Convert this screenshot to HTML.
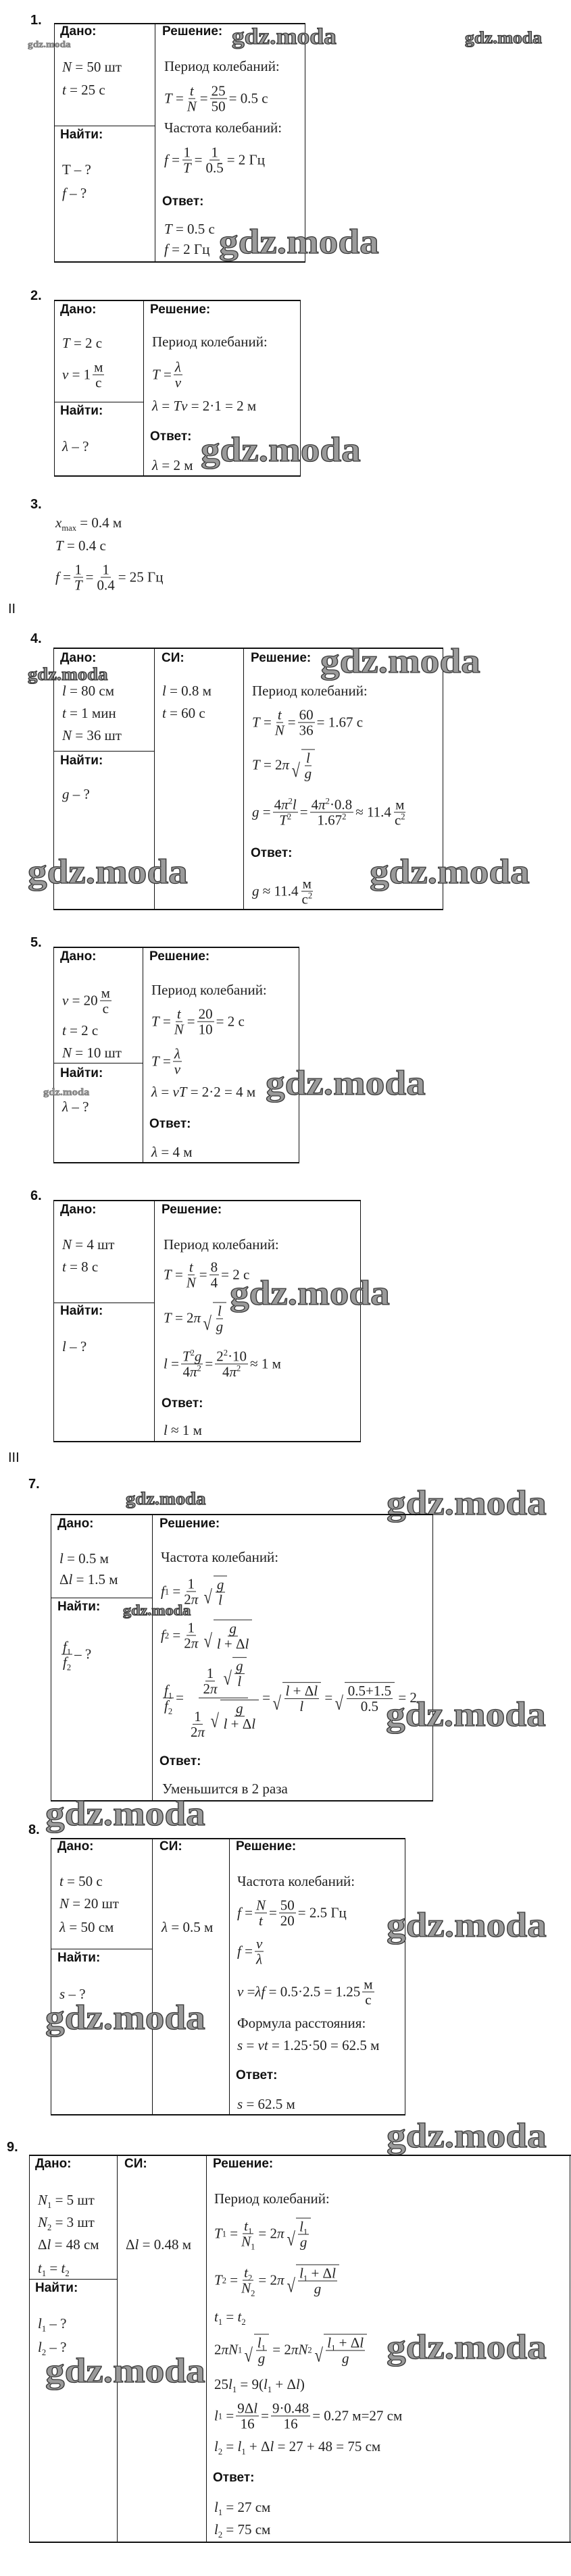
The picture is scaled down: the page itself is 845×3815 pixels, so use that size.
<!DOCTYPE html>
<html><head><meta charset="utf-8">
<style>
*{margin:0;padding:0;box-sizing:border-box}
body{width:845px;height:3815px;background:#fff;position:relative;overflow:hidden;color:#111}
.n{position:absolute;font:bold 20px "Liberation Sans",sans-serif;line-height:1}
.r{position:absolute;font:20px "Liberation Sans",sans-serif;line-height:1}
.h{position:absolute;font:bold 19px "Liberation Sans",sans-serif;line-height:1;white-space:nowrap}
.t{position:absolute;font:21px "Liberation Serif",serif;line-height:1;white-space:nowrap;color:#222}
.m{position:absolute;font:21px "Liberation Serif",serif;white-space:nowrap;display:flex;align-items:center;transform:translateY(-50%);color:#222;line-height:1}
.fr{display:inline-flex;flex-direction:column;align-items:center;margin:0 3px;vertical-align:middle}
.fr>span{padding:0 2px;line-height:22px}
.fr>span:first-child{border-bottom:1px solid #222}
.sq{display:inline-flex;align-items:stretch;margin-left:2px}
.sq>b{font-weight:normal;font-size:1.35em;line-height:1;align-self:flex-end;transform:scaleX(.8)}
.sq>span{border-top:1px solid #222;display:inline-flex;align-items:center;padding-top:1px}
sub,sup{font-size:.6em;line-height:0}
.L{position:absolute;background:#111}
.wm{position:absolute;font:bold 52px "Liberation Serif",serif;color:#9a9a9a;-webkit-text-stroke:1.3px #3a3a3a;line-height:1;white-space:nowrap;transform:scaleX(1.1);transform-origin:left top}
</style></head><body>

<!-- ===== 1 ===== -->
<div class="n" style="left:45px;top:20px">1.</div>
<div class="L" style="left:80px;top:34px;width:372px;height:2px"></div>
<div class="L" style="left:80px;top:387px;width:372px;height:2px"></div>
<div class="L" style="left:80px;top:34px;width:1px;height:355px"></div>
<div class="L" style="left:229px;top:34px;width:1px;height:355px"></div>
<div class="L" style="left:451px;top:34px;width:1px;height:355px"></div>
<div class="L" style="left:80px;top:186px;width:149px;height:1px"></div>
<div class="h" style="left:89px;top:37px">Дано:</div>
<div class="h" style="left:240px;top:37px">Решение:</div>
<div class="t" style="left:92px;top:89px"><i>N</i> = 50 шт</div>
<div class="t" style="left:92px;top:123px"><i>t</i> = 25 с</div>
<div class="h" style="left:89px;top:190px">Найти:</div>
<div class="t" style="left:92px;top:241px">T – ?</div>
<div class="t" style="left:92px;top:276px"><i>f</i> – ?</div>
<div class="t" style="left:243px;top:88px">Период колебаний:</div>
<div class="m" style="left:243px;top:146px"><i>T</i>&nbsp;=<span class="fr"><span><i>t</i></span><span><i>N</i></span></span>=<span class="fr"><span>25</span><span>50</span></span>= 0.5 с</div>
<div class="t" style="left:243px;top:179px">Частота колебаний:</div>
<div class="m" style="left:243px;top:237px"><i>f</i>&nbsp;=<span class="fr"><span>1</span><span><i>T</i></span></span>=<span class="fr"><span>1</span><span>0.5</span></span>= 2 Гц</div>
<div class="h" style="left:240px;top:289px">Ответ:</div>
<div class="t" style="left:243px;top:329px"><i>T</i> = 0.5 с</div>
<div class="t" style="left:243px;top:359px"><i>f</i> = 2 Гц</div>
<div class="wm" style="left:343px;top:38px;font-size:34px">gdz.moda</div>
<div class="wm" style="left:688px;top:44px;font-size:25px">gdz.moda</div>
<div class="wm" style="left:41px;top:60px;font-size:14px;-webkit-text-stroke:0.5px #555">gdz.moda</div>
<div class="wm" style="left:324px;top:333px">gdz.moda</div>

<!-- ===== 2 ===== -->
<div class="n" style="left:45px;top:428px">2.</div>
<div class="L" style="left:80px;top:444px;width:365px;height:2px"></div>
<div class="L" style="left:80px;top:704px;width:365px;height:2px"></div>
<div class="L" style="left:80px;top:444px;width:1px;height:262px"></div>
<div class="L" style="left:212px;top:444px;width:1px;height:262px"></div>
<div class="L" style="left:444px;top:444px;width:1px;height:262px"></div>
<div class="L" style="left:80px;top:595px;width:132px;height:1px"></div>
<div class="h" style="left:89px;top:449px">Дано:</div>
<div class="h" style="left:222px;top:449px">Решение:</div>
<div class="t" style="left:92px;top:498px"><i>T</i> = 2 с</div>
<div class="m" style="left:92px;top:555px"><i>v</i>&nbsp;= 1<span class="fr"><span>м</span><span>с</span></span></div>
<div class="h" style="left:89px;top:599px">Найти:</div>
<div class="t" style="left:92px;top:651px"><i>λ</i> – ?</div>
<div class="t" style="left:225px;top:496px">Период колебаний:</div>
<div class="m" style="left:225px;top:555px"><i>T</i>&nbsp;=<span class="fr"><span><i>λ</i></span><span><i>v</i></span></span></div>
<div class="t" style="left:225px;top:591px"><i>λ</i> = <i>Tv</i> = 2·1 = 2 м</div>
<div class="h" style="left:222px;top:637px">Ответ:</div>
<div class="t" style="left:225px;top:679px"><i>λ</i> = 2 м</div>
<div class="wm" style="left:297px;top:641px">gdz.moda</div>

<!-- ===== 3 ===== -->
<div class="n" style="left:45px;top:737px">3.</div>
<div class="t" style="left:82px;top:764px"><i>x</i><sub>max</sub> = 0.4 м</div>
<div class="t" style="left:82px;top:798px"><i>T</i> = 0.4 с</div>
<div class="m" style="left:82px;top:855px"><i>f</i>&nbsp;=<span class="fr"><span>1</span><span><i>T</i></span></span>=<span class="fr"><span>1</span><span>0.4</span></span>= 25 Гц</div>
<div class="r" style="left:12px;top:892px">II</div>

<!-- ===== 4 ===== -->
<div class="n" style="left:45px;top:936px">4.</div>
<div class="L" style="left:79px;top:959px;width:577px;height:2px"></div>
<div class="L" style="left:79px;top:1346px;width:577px;height:2px"></div>
<div class="L" style="left:79px;top:959px;width:1px;height:389px"></div>
<div class="L" style="left:228px;top:959px;width:1px;height:389px"></div>
<div class="L" style="left:360px;top:959px;width:1px;height:389px"></div>
<div class="L" style="left:655px;top:959px;width:1px;height:389px"></div>
<div class="L" style="left:79px;top:1112px;width:149px;height:1px"></div>
<div class="h" style="left:89px;top:965px">Дано:</div>
<div class="h" style="left:239px;top:965px">СИ:</div>
<div class="h" style="left:371px;top:965px">Решение:</div>
<div class="t" style="left:92px;top:1013px"><i>l</i> = 80 см</div>
<div class="t" style="left:92px;top:1046px"><i>t</i> = 1 мин</div>
<div class="t" style="left:92px;top:1079px"><i>N</i> = 36 шт</div>
<div class="t" style="left:240px;top:1013px"><i>l</i> = 0.8 м</div>
<div class="t" style="left:240px;top:1046px"><i>t</i> = 60 с</div>
<div class="h" style="left:89px;top:1117px">Найти:</div>
<div class="t" style="left:92px;top:1166px"><i>g</i> – ?</div>
<div class="t" style="left:373px;top:1013px">Период колебаний:</div>
<div class="m" style="left:373px;top:1070px"><i>T</i>&nbsp;=<span class="fr"><span><i>t</i></span><span><i>N</i></span></span>=<span class="fr"><span>60</span><span>36</span></span>= 1.67 с</div>
<div class="m" style="left:373px;top:1133px"><i>T</i>&nbsp;= 2<i>π</i><span class="sq"><b>√</b><span><span class="fr"><span><i>l</i></span><span><i>g</i></span></span></span></span></div>
<div class="m" style="left:373px;top:1203px"><i>g</i>&nbsp;=<span class="fr"><span>4<i>π</i><sup>2</sup><i>l</i></span><span><i>T</i><sup>2</sup></span></span>=<span class="fr"><span>4<i>π</i><sup>2</sup>·0.8</span><span>1.67<sup>2</sup></span></span>≈ 11.4<span class="fr"><span>м</span><span>с<sup>2</sup></span></span></div>
<div class="h" style="left:371px;top:1254px">Ответ:</div>
<div class="m" style="left:373px;top:1320px"><i>g</i>&nbsp;≈ 11.4<span class="fr"><span>м</span><span>с<sup>2</sup></span></span></div>
<div class="wm" style="left:41px;top:986px;font-size:26px">gdz.moda</div>
<div class="wm" style="left:474px;top:954px">gdz.moda</div>
<div class="wm" style="left:41px;top:1266px">gdz.moda</div>
<div class="wm" style="left:547px;top:1266px">gdz.moda</div>

<!-- ===== 5 ===== -->
<div class="n" style="left:45px;top:1386px">5.</div>
<div class="L" style="left:79px;top:1402px;width:364px;height:2px"></div>
<div class="L" style="left:79px;top:1721px;width:364px;height:2px"></div>
<div class="L" style="left:79px;top:1402px;width:1px;height:321px"></div>
<div class="L" style="left:211px;top:1402px;width:1px;height:321px"></div>
<div class="L" style="left:442px;top:1402px;width:1px;height:321px"></div>
<div class="L" style="left:79px;top:1574px;width:132px;height:1px"></div>
<div class="h" style="left:89px;top:1407px">Дано:</div>
<div class="h" style="left:221px;top:1407px">Решение:</div>
<div class="m" style="left:92px;top:1482px"><i>v</i>&nbsp;= 20<span class="fr"><span>м</span><span>с</span></span></div>
<div class="t" style="left:92px;top:1516px"><i>t</i> = 2 с</div>
<div class="t" style="left:92px;top:1549px"><i>N</i> = 10 шт</div>
<div class="h" style="left:89px;top:1580px">Найти:</div>
<div class="t" style="left:92px;top:1629px"><i>λ</i> – ?</div>
<div class="t" style="left:224px;top:1456px">Период колебаний:</div>
<div class="m" style="left:224px;top:1513px"><i>T</i>&nbsp;=<span class="fr"><span><i>t</i></span><span><i>N</i></span></span>=<span class="fr"><span>20</span><span>10</span></span>= 2 с</div>
<div class="m" style="left:224px;top:1572px"><i>T</i>&nbsp;=<span class="fr"><span><i>λ</i></span><span><i>v</i></span></span></div>
<div class="t" style="left:224px;top:1607px"><i>λ</i> = <i>vT</i> = 2·2 = 4 м</div>
<div class="h" style="left:221px;top:1655px">Ответ:</div>
<div class="t" style="left:224px;top:1696px"><i>λ</i> = 4 м</div>
<div class="wm" style="left:64px;top:1611px;font-size:15px;-webkit-text-stroke:0.5px #555">gdz.moda</div>
<div class="wm" style="left:393px;top:1579px">gdz.moda</div>

<!-- ===== 6 ===== -->
<div class="n" style="left:45px;top:1761px">6.</div>
<div class="L" style="left:79px;top:1777px;width:455px;height:2px"></div>
<div class="L" style="left:79px;top:2134px;width:455px;height:2px"></div>
<div class="L" style="left:79px;top:1777px;width:1px;height:359px"></div>
<div class="L" style="left:228px;top:1777px;width:1px;height:359px"></div>
<div class="L" style="left:533px;top:1777px;width:1px;height:359px"></div>
<div class="L" style="left:79px;top:1929px;width:149px;height:1px"></div>
<div class="h" style="left:89px;top:1782px">Дано:</div>
<div class="h" style="left:239px;top:1782px">Решение:</div>
<div class="t" style="left:92px;top:1833px"><i>N</i> = 4 шт</div>
<div class="t" style="left:92px;top:1866px"><i>t</i> = 8 с</div>
<div class="h" style="left:89px;top:1932px">Найти:</div>
<div class="t" style="left:92px;top:1984px"><i>l</i> – ?</div>
<div class="t" style="left:242px;top:1833px">Период колебаний:</div>
<div class="m" style="left:242px;top:1888px"><i>T</i>&nbsp;=<span class="fr"><span><i>t</i></span><span><i>N</i></span></span>=<span class="fr"><span>8</span><span>4</span></span>= 2 с</div>
<div class="m" style="left:242px;top:1952px"><i>T</i>&nbsp;= 2<i>π</i><span class="sq"><b>√</b><span><span class="fr"><span><i>l</i></span><span><i>g</i></span></span></span></span></div>
<div class="m" style="left:242px;top:2020px"><i>l</i>&nbsp;=<span class="fr"><span><i>T</i><sup>2</sup><i>g</i></span><span>4<i>π</i><sup>2</sup></span></span>=<span class="fr"><span>2<sup>2</sup>·10</span><span>4<i>π</i><sup>2</sup></span></span>≈ 1 м</div>
<div class="h" style="left:239px;top:2069px">Ответ:</div>
<div class="t" style="left:242px;top:2108px"><i>l</i> ≈ 1 м</div>
<div class="wm" style="left:340px;top:1890px">gdz.moda</div>
<div class="r" style="left:12px;top:2149px">III</div>

<!-- ===== 7 ===== -->
<div class="n" style="left:42px;top:2188px">7.</div>
<div class="wm" style="left:186px;top:2207px;font-size:26px">gdz.moda</div>
<div class="wm" style="left:572px;top:2201px">gdz.moda</div>
<div class="L" style="left:75px;top:2242px;width:566px;height:2px"></div>
<div class="L" style="left:75px;top:2666px;width:566px;height:2px"></div>
<div class="L" style="left:75px;top:2242px;width:1px;height:426px"></div>
<div class="L" style="left:225px;top:2242px;width:1px;height:426px"></div>
<div class="L" style="left:640px;top:2242px;width:1px;height:426px"></div>
<div class="L" style="left:75px;top:2366px;width:150px;height:1px"></div>
<div class="h" style="left:85px;top:2247px">Дано:</div>
<div class="h" style="left:236px;top:2247px">Решение:</div>
<div class="t" style="left:88px;top:2298px"><i>l</i> = 0.5 м</div>
<div class="t" style="left:88px;top:2329px">Δ<i>l</i> = 1.5 м</div>
<div class="h" style="left:85px;top:2370px">Найти:</div>
<div class="m" style="left:88px;top:2450px"><span class="fr"><span><i>f</i><sub>1</sub></span><span><i>f</i><sub>2</sub></span></span>– ?</div>
<div class="t" style="left:238px;top:2296px">Частота колебаний:</div>
<div class="m" style="left:238px;top:2357px"><i>f</i><sub>1</sub>&nbsp;=<span class="fr"><span>1</span><span>2<i>π</i></span></span><span class="sq"><b>√</b><span><span class="fr"><span><i>g</i></span><span><i>l</i></span></span></span></span></div>
<div class="m" style="left:238px;top:2422px"><i>f</i><sub>2</sub>&nbsp;=<span class="fr"><span>1</span><span>2<i>π</i></span></span><span class="sq"><b>√</b><span><span class="fr"><span><i>g</i></span><span><i>l</i> + Δ<i>l</i></span></span></span></span></div>
<div class="m" style="left:238px;top:2515px"><span class="fr"><span><i>f</i><sub>1</sub></span><span><i>f</i><sub>2</sub></span></span>=<span class="fr"><span style="padding-bottom:2px"><span class="fr"><span>1</span><span>2<i>π</i></span></span><span class="sq"><b>√</b><span><span class="fr"><span><i>g</i></span><span><i>l</i></span></span></span></span></span><span style="padding-top:2px"><span class="fr"><span>1</span><span>2<i>π</i></span></span><span class="sq"><b>√</b><span><span class="fr"><span><i>g</i></span><span><i>l</i> + Δ<i>l</i></span></span></span></span></span></span>=<span class="sq"><b>√</b><span><span class="fr"><span><i>l</i> + Δ<i>l</i></span><span><i>l</i></span></span></span></span>&nbsp;=<span class="sq"><b>√</b><span><span class="fr"><span>0.5+1.5</span><span>0.5</span></span></span></span>&nbsp;= 2</div>
<div class="h" style="left:236px;top:2599px">Ответ:</div>
<div class="t" style="left:240px;top:2639px">Уменьшится в 2 раза</div>
<div class="wm" style="left:182px;top:2374px;font-size:22px">gdz.moda</div>
<div class="wm" style="left:571px;top:2514px">gdz.moda</div>
<div class="wm" style="left:67px;top:2661px">gdz.moda</div>

<!-- ===== 8 ===== -->
<div class="n" style="left:42px;top:2700px">8.</div>
<div class="L" style="left:75px;top:2722px;width:525px;height:2px"></div>
<div class="L" style="left:75px;top:3131px;width:525px;height:2px"></div>
<div class="L" style="left:75px;top:2722px;width:1px;height:411px"></div>
<div class="L" style="left:225px;top:2722px;width:1px;height:411px"></div>
<div class="L" style="left:339px;top:2722px;width:1px;height:411px"></div>
<div class="L" style="left:599px;top:2722px;width:1px;height:411px"></div>
<div class="L" style="left:75px;top:2886px;width:150px;height:1px"></div>
<div class="h" style="left:85px;top:2725px">Дано:</div>
<div class="h" style="left:236px;top:2725px">СИ:</div>
<div class="h" style="left:349px;top:2725px">Решение:</div>
<div class="t" style="left:88px;top:2776px"><i>t</i> = 50 с</div>
<div class="t" style="left:88px;top:2809px"><i>N</i> = 20 шт</div>
<div class="t" style="left:88px;top:2844px"><i>λ</i> = 50 см</div>
<div class="t" style="left:239px;top:2844px"><i>λ</i> = 0.5 м</div>
<div class="h" style="left:85px;top:2890px">Найти:</div>
<div class="t" style="left:88px;top:2943px"><i>s</i> – ?</div>
<div class="t" style="left:351px;top:2776px">Частота колебаний:</div>
<div class="m" style="left:351px;top:2833px"><i>f</i>&nbsp;=<span class="fr"><span><i>N</i></span><span><i>t</i></span></span>=<span class="fr"><span>50</span><span>20</span></span>= 2.5 Гц</div>
<div class="m" style="left:351px;top:2890px"><i>f</i>&nbsp;=<span class="fr"><span><i>v</i></span><span><i>λ</i></span></span></div>
<div class="m" style="left:351px;top:2950px"><i>v</i>&nbsp;= <i>λf</i>&nbsp;= 0.5·2.5 = 1.25<span class="fr"><span>м</span><span>с</span></span></div>
<div class="t" style="left:351px;top:2986px">Формула расстояния:</div>
<div class="t" style="left:351px;top:3019px"><i>s</i> = <i>vt</i> = 1.25·50 = 62.5 м</div>
<div class="h" style="left:349px;top:3064px">Ответ:</div>
<div class="t" style="left:351px;top:3106px"><i>s</i> = 62.5 м</div>
<div class="wm" style="left:572px;top:2826px">gdz.moda</div>
<div class="wm" style="left:67px;top:2963px">gdz.moda</div>

<!-- ===== 9 ===== -->
<div class="n" style="left:10px;top:3170px">9.</div>
<div class="wm" style="left:572px;top:3138px">gdz.moda</div>
<div class="L" style="left:43px;top:3191px;width:802px;height:2px"></div>
<div class="L" style="left:43px;top:3764px;width:802px;height:2px"></div>
<div class="L" style="left:43px;top:3191px;width:1px;height:575px"></div>
<div class="L" style="left:173px;top:3191px;width:1px;height:575px"></div>
<div class="L" style="left:305px;top:3191px;width:1px;height:575px"></div>
<div class="L" style="left:843px;top:3191px;width:1px;height:575px"></div>
<div class="L" style="left:43px;top:3375px;width:130px;height:1px"></div>
<div class="h" style="left:52px;top:3195px">Дано:</div>
<div class="h" style="left:184px;top:3195px">СИ:</div>
<div class="h" style="left:315px;top:3195px">Решение:</div>
<div class="t" style="left:56px;top:3248px"><i>N</i><sub>1</sub> = 5 шт</div>
<div class="t" style="left:56px;top:3281px"><i>N</i><sub>2</sub> = 3 шт</div>
<div class="t" style="left:56px;top:3314px">Δ<i>l</i> = 48 см</div>
<div class="t" style="left:56px;top:3349px"><i>t</i><sub>1</sub> = <i>t</i><sub>2</sub></div>
<div class="t" style="left:186px;top:3314px">Δ<i>l</i> = 0.48 м</div>
<div class="h" style="left:52px;top:3379px">Найти:</div>
<div class="t" style="left:56px;top:3431px"><i>l</i><sub>1</sub> – ?</div>
<div class="t" style="left:56px;top:3466px"><i>l</i><sub>2</sub> – ?</div>
<div class="t" style="left:317px;top:3246px">Период колебаний:</div>
<div class="m" style="left:317px;top:3308px"><i>T</i><sub>1</sub>&nbsp;=<span class="fr"><span><i>t</i><sub>1</sub></span><span><i>N</i><sub>1</sub></span></span>= 2<i>π</i><span class="sq"><b>√</b><span><span class="fr"><span><i>l</i><sub>1</sub></span><span><i>g</i></span></span></span></span></div>
<div class="m" style="left:317px;top:3377px"><i>T</i><sub>2</sub>&nbsp;=<span class="fr"><span><i>t</i><sub>2</sub></span><span><i>N</i><sub>2</sub></span></span>= 2<i>π</i><span class="sq"><b>√</b><span><span class="fr"><span><i>l</i><sub>1</sub> + Δ<i>l</i></span><span><i>g</i></span></span></span></span></div>
<div class="t" style="left:317px;top:3421px"><i>t</i><sub>1</sub> = <i>t</i><sub>2</sub></div>
<div class="m" style="left:317px;top:3480px">2<i>πN</i><sub>1</sub><span class="sq"><b>√</b><span><span class="fr"><span><i>l</i><sub>1</sub></span><span><i>g</i></span></span></span></span>&nbsp;= 2<i>πN</i><sub>2</sub><span class="sq"><b>√</b><span><span class="fr"><span><i>l</i><sub>1</sub> + Δ<i>l</i></span><span><i>g</i></span></span></span></span></div>
<div class="t" style="left:317px;top:3521px">25<i>l</i><sub>1</sub> = 9(<i>l</i><sub>1</sub> + Δ<i>l</i>)</div>
<div class="m" style="left:317px;top:3578px"><i>l</i><sub>1</sub>&nbsp;=<span class="fr"><span>9Δ<i>l</i></span><span>16</span></span>=<span class="fr"><span>9·0.48</span><span>16</span></span>= 0.27 м=27 см</div>
<div class="t" style="left:317px;top:3613px"><i>l</i><sub>2</sub> = <i>l</i><sub>1</sub> + Δ<i>l</i> = 27 + 48 = 75 см</div>
<div class="h" style="left:315px;top:3660px">Ответ:</div>
<div class="t" style="left:317px;top:3703px"><i>l</i><sub>1</sub> = 27 см</div>
<div class="t" style="left:317px;top:3736px"><i>l</i><sub>2</sub> = 75 см</div>
<div class="wm" style="left:572px;top:3451px">gdz.moda</div>
<div class="wm" style="left:67px;top:3486px">gdz.moda</div>

</body></html>
